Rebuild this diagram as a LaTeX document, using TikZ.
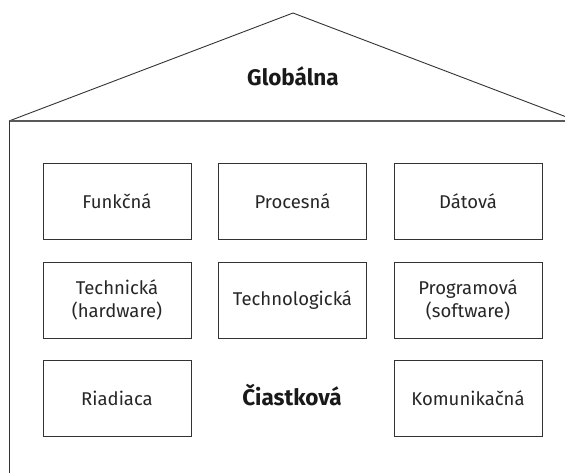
\documentclass[tikz,border=0pt]{standalone}
\usepackage{fontspec}
\setmainfont{Fira Sans}
\begin{document}
\begin{tikzpicture}[x=1pt,y=-1pt,
  wall/.style={draw=black!80, line width=0.9pt},
  topline/.style={draw=black!65, line width=1.6pt},
  part/.style={draw=black!80, line width=0.9pt, minimum width=148pt, minimum height=76pt,
    inner sep=0pt, align=center, font=\fontsize{18.5}{23}\selectfont, text=black!85},
  head/.style={font=\fontsize{22.5}{26}\selectfont\bfseries, text=black!90}]
  \useasboundingbox (0,0) rectangle (565,472);
  % house outline: roof and walls
  \coordinate (apex) at (293,13);
  \coordinate (eaveL) at (9,121);
  \coordinate (eaveR) at (577,121);
  \coordinate (footL) at (9,480);
  \draw[wall] (eaveL) -- (apex) -- (eaveR);
  \draw[topline] (eaveL) -- (eaveR);
  \draw[wall] (eaveL) -- (footL);
  \node[head] (glob) at (293,76) {Globálna};
  % parts
  \node[part] (fun) at (117,201.5) {Funkčná};
  \node[part] (pro) at (292.5,201.5) {Procesná};
  \node[part] (dat) at (468,201.5) {Dátová};
  \node[part] (tec) at (117,300) {Technická\\(hardware)};
  \node[part] (tlg) at (292.5,300) {Technologická};
  \node[part] (prg) at (468,300) {Programová\\(software)};
  \node[part] (ria) at (117,398) {Riadiaca};
  \node[head] (cia) at (292,395) {Čiastková};
  \node[part] (kom) at (468,398) {Komunikačná};
\end{tikzpicture}
\end{document}
